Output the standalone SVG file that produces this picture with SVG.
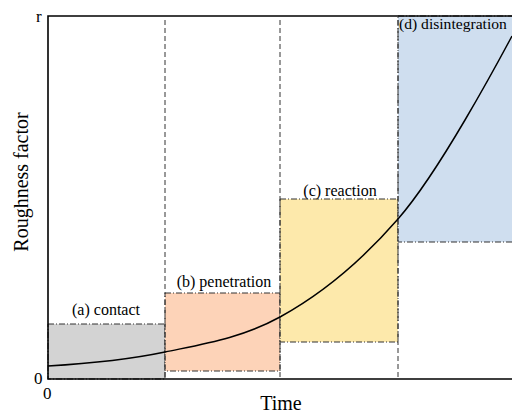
<svg xmlns="http://www.w3.org/2000/svg" width="512" height="414" viewBox="0 0 512 414">
<style>
text{font-family:"Liberation Serif","Times New Roman",serif;fill:#000}
.box{stroke:#333;stroke-width:1;stroke-dasharray:6 2 1 2}
.vline{stroke:#333;stroke-width:1;stroke-dasharray:5 3;fill:none}
.lbl{font-size:16px;text-anchor:middle}
.tick{font-size:17px}
.axis{stroke:#000;stroke-width:1.6;fill:none}
</style>
<rect width="512" height="414" fill="#fff"/>
<g id="stage-a"><rect class="box" x="48" y="324" width="117" height="55" fill="#d3d3d3"/><text class="lbl" x="106" y="315">(a) contact</text></g>
<g id="stage-b"><rect class="box" x="165" y="293" width="115" height="78" fill="#fdd3b8"/><text class="lbl" x="224" y="287">(b) penetration</text></g>
<g id="stage-c"><rect class="box" x="280" y="199" width="118" height="143" fill="#fde9ab"/><text class="lbl" x="340" y="196">(c) reaction</text></g>
<g id="stage-d"><rect class="box" x="398" y="16" width="120" height="226" fill="#cfdeef"/><text class="lbl" x="399" y="29" style="text-anchor:start;font-size:15.6px">(d) disintegration</text></g>
<g id="connectors">
<line class="vline" x1="165" y1="20" x2="165" y2="379"/>
<line class="vline" x1="280" y1="20" x2="280" y2="379"/>
<line class="vline" x1="398" y1="20" x2="398" y2="379"/>
<path d="M48,366 C87,363.7 126,360.2 165,352 C203.3,344 241.7,338.1 280,317 C319.3,295.4 358.7,264.2 398,219 C420.3,193.4 442.7,157.9 465,120 C480.7,93.3 496.3,65.4 512,36" fill="none" stroke="#000" stroke-width="1.5"/>
</g>
<g id="axes">
<path class="axis" d="M512,16 H48 V379 H512"/>
<text class="tick" x="36" y="22">r</text>
<text class="tick" x="34" y="384">0</text>
<text class="tick" x="43" y="399">0</text>
<text x="281" y="410" font-size="20" text-anchor="middle">Time</text>
<text transform="translate(28,182) rotate(-90)" font-size="20" text-anchor="middle">Roughness factor</text>
</g>
</svg>
